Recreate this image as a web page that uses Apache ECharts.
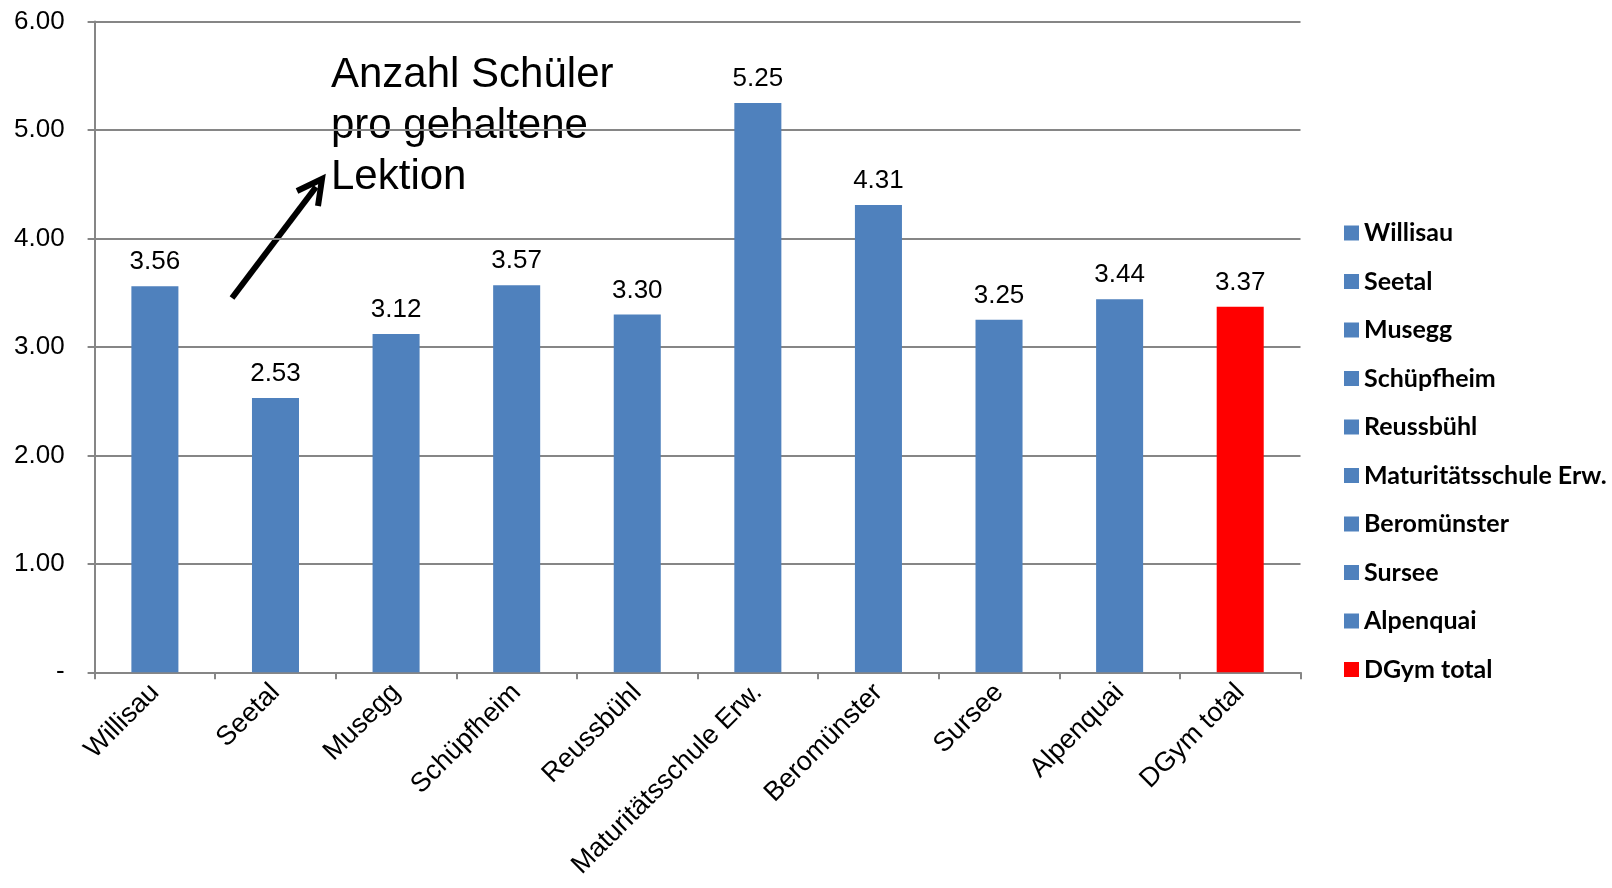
<!DOCTYPE html>
<html>
<head>
<meta charset="utf-8">
<script src="https://cdn.jsdelivr.net/npm/echarts@6/dist/echarts.min.js"></script>
<style>html,body{margin:0;padding:0;background:#fff}#c{width:1612px;height:888px}</style>
</head>
<body>
<div id="c"></div>
<script>
const categories = ['Willisau','Seetal','Musegg','Schüpfheim','Reussbühl','Maturitätsschule Erw.','Beromünster','Sursee','Alpenquai','DGym total'];
const values = [3.56, 2.53, 3.12, 3.57, 3.30, 5.25, 4.31, 3.25, 3.44, 3.37];
const barColors = ['#4F81BD','#4F81BD','#4F81BD','#4F81BD','#4F81BD','#4F81BD','#4F81BD','#4F81BD','#4F81BD','#FF0000'];
const yTicks = [0, 1, 2, 3, 4, 5, 6];
const annotationText = 'Anzahl Schüler\npro gehaltene\nLektion';

const font = 'Liberation Sans, Arial, sans-serif';
const series = categories.map((name, i) => ({
  name: name,
  type: 'bar',
  stack: 'all',
  barCategoryGap: '61%',
  itemStyle: { color: barColors[i] },
  data: values.map((v, j) => (j === i ? v : null)),
  label: {
    show: true, position: 'top', distance: 11,
    color: '#000', fontSize: 26, fontFamily: font,
    formatter: p => p.value.toFixed(2)
  }
}));

const chart = echarts.init(document.getElementById('c'), null, { renderer: 'canvas' });
chart.setOption({
  animation: false,
  backgroundColor: '#fff',
  grid: { left: 94.6, right: 311.5, top: 21.6, bottom: 215.7, containLabel: false },
  legend: {
    orient: 'vertical', left: 1339, top: 215.5,
    itemWidth: 15, itemHeight: 15, itemGap: 23.5,
    icon: 'rect',
    textStyle: { fontSize: 25, fontWeight: 'bold', color: '#000', fontFamily: 'Lato, Open Sans, sans-serif' },
    data: categories
  },
  xAxis: {
    type: 'category', data: categories,
    axisLine: { lineStyle: { color: '#868686', width: 2 } },
    axisTick: { show: true, length: 7, lineStyle: { color: '#868686', width: 2 } },
    axisLabel: { rotate: 45, interval: 0, fontSize: 27, color: '#000', fontFamily: font, margin: 16 }
  },
  yAxis: {
    type: 'value', min: yTicks[0], max: yTicks[yTicks.length - 1], interval: 1,
    axisLine: { show: true, lineStyle: { color: '#868686', width: 2 } },
    axisTick: { show: true, length: 7, lineStyle: { color: '#868686', width: 2 } },
    splitLine: { show: true, lineStyle: { color: '#868686', width: 2 } },
    axisLabel: {
      fontSize: 26, color: '#000', fontFamily: font, margin: 30,
      formatter: v => (v === 0 ? '-' : v.toFixed(2))
    }
  },
  series: series,
  graphic: [
    {
      type: 'text', left: 331, top: 50,
      style: { text: annotationText, font: '42px ' + font, fill: '#000', lineHeight: 51 }
    },
    {
      type: 'line',
      shape: { x1: 232, y1: 298, x2: 316, y2: 187 },
      style: { stroke: '#000', lineWidth: 6 }
    },
    {
      type: 'polyline',
      shape: { points: [[297, 191], [322, 179], [318, 206]] },
      style: { stroke: '#000', lineWidth: 6, fill: null, lineJoin: 'miter' }
    }
  ]
});
</script>
</body>
</html>
